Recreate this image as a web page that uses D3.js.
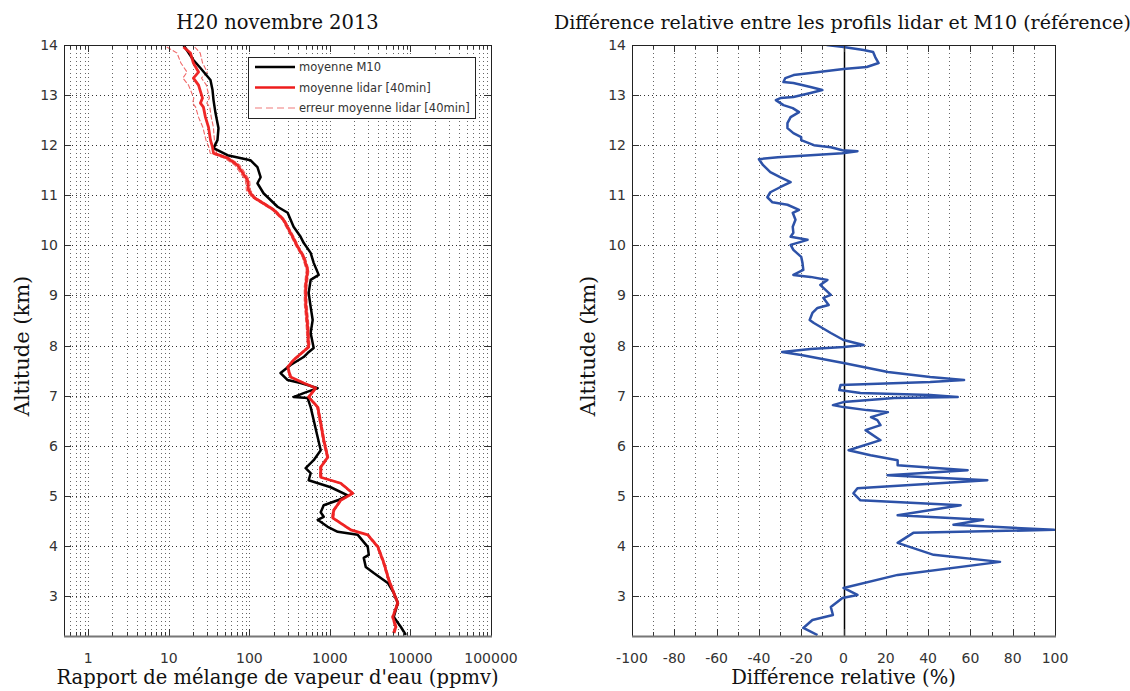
<!DOCTYPE html>
<html><head><meta charset="utf-8">
<script src="https://cdn.jsdelivr.net/npm/d3@7"></script>
<style>body{margin:0;background:#fff}</style>
</head><body><svg id="c" width="1130" height="691"></svg>
<script>
// ---------- data ----------
const m10Alt = [14.00,13.70,13.54,13.30,13.10,12.90,12.64,12.34,12.10,11.94,11.80,11.70,11.56,11.36,11.24,11.04,10.77,10.65,10.37,10.17,10.05,9.85,9.65,9.41,9.31,9.05,8.77,8.51,8.25,7.95,7.85,7.77,7.61,7.45,7.31,7.25,7.15,7.05,6.97,6.95,6.77,6.51,6.17,5.91,5.71,5.55,5.45,5.31,5.17,5.01,4.91,4.81,4.67,4.58,4.52,4.38,4.28,4.22,3.98,3.82,3.76,3.58,3.46,3.26,3.06,2.86,2.58,2.38,2.22];
const m10Val = [15.2,20.2,24.7,32.9,34.9,35.9,38,41.4,40.2,35.9,53.6,103,126,138,126,150,224,299,354,433,472,577,629,726,577,545,577,611,577,629,529,472,325,244,299,433,705,472,354,529,577,629,705,769,629,500,577,545,1023,1664,1250,838,769,838,705,939,1250,2218,2951,3040,2632,2786,3505,5235,6210,6966,6210,7610,8770];

const lidarAlt = [13.96,13.84,13.64,13.46,13.34,13.20,12.94,12.84,12.76,12.56,12.36,12.10,11.96,11.84,11.74,11.60,11.30,11.10,10.96,10.71,10.51,10.17,9.97,9.77,9.51,9.17,8.85,8.37,7.97,7.71,7.57,7.37,7.25,7.15,6.97,6.77,6.45,6.11,5.77,5.57,5.37,5.25,5.05,4.91,4.71,4.56,4.32,4.22,3.98,3.66,3.32,3.06,2.86,2.58,2.38,2.26];
const lidarVal = [15.2,18.6,20.2,23.4,20.2,23.4,26.2,24.7,26.9,28.5,31.1,32.9,34.9,35.9,53.6,71.3,95,97.7,113,200,266,345,398,472,529,500,500,529,545,354,299,325,472,666,545,705,769,838,939,769,769,1363,1921,1363,1115,1083,1815,2951,3935,4668,5386,6210,6966,6040,6577,6210];
const lidarErrPct = [38,32,30,28,26,25,22,20,20,18,15,12,10,9,8,7,6,6,5,5,4,4,4,4,4,4,4,4,4,3,3,3,3,3,3,3,3,3,3,3,3,3,3,3,3,3,3,3,3,3,3,3,3,3,3,3];

const diffAlt = [14.00,13.96,13.90,13.86,13.76,13.64,13.56,13.52,13.44,13.40,13.34,13.26,13.24,13.16,13.10,13.04,12.96,12.94,12.90,12.80,12.74,12.66,12.56,12.44,12.34,12.24,12.16,12.10,12.00,11.96,11.90,11.88,11.84,11.80,11.76,11.72,11.60,11.46,11.36,11.26,11.16,11.06,10.96,10.86,10.81,10.71,10.65,10.51,10.37,10.25,10.17,10.11,10.01,9.91,9.77,9.65,9.51,9.41,9.37,9.31,9.21,9.11,9.01,8.95,8.81,8.75,8.65,8.51,8.45,8.35,8.25,8.11,8.01,7.97,7.93,7.87,7.81,7.65,7.47,7.37,7.31,7.27,7.21,7.11,7.05,7.01,6.97,6.95,6.87,6.81,6.77,6.71,6.67,6.57,6.51,6.41,6.31,6.11,5.91,5.81,5.71,5.61,5.51,5.41,5.31,5.15,5.05,4.91,4.81,4.61,4.52,4.42,4.32,4.26,4.06,3.82,3.68,3.42,3.16,3.02,2.96,2.78,2.62,2.52,2.36,2.22];
const diffVal = [-8,0,9.5,14,15,16.6,11,0,-15.6,-23.6,-27.5,-28.4,-23.7,-15.6,-10,-15.6,-23.7,-29.8,-32,-28.4,-24,-21,-25,-26.5,-26.5,-23.7,-20,-20,-14,-6,-0.5,6.6,-0.5,-15.6,-31,-40,-38,-34.6,-30,-25,-30,-34.6,-36,-33.6,-26.5,-21,-24,-22.7,-24,-23.7,-25,-17,-25,-23.7,-20,-19.4,-19,-23.7,-15.6,-7.6,-11,-8.5,-6,-9.5,-7,-12.3,-14.7,-16,-14,-10,-6,0,9.5,0,-15.6,-29,-20,0,21,41,57,41,-1.4,-2,8,41,54,24,0,-5,0,11,21,13,16,17.5,10.4,17.5,2.4,12.8,25.6,25.6,58.7,20.8,68,6.6,4.7,8,55.4,25.6,66,52,99.5,33,25.6,42.6,74,25.6,0,6.6,-0.5,-6,-5,-14.7,-19,-12.3];

const altTicks = [3,4,5,6,7,8,9,10,11,12,13,14];
const logTickLabels = [1,10,100,1000,10000,100000];
const diffTicks = [-100,-80,-60,-40,-20,0,20,40,60,80,100];
const diffMinor = [-90,-70,-50,-30,-10,10,30,50,70,90];

const titleLeft = "H20 novembre 2013";
const titleRight = "Différence relative entre les profils lidar et M10 (référence)";
const xLabelLeft = "Rapport de mélange de vapeur d'eau (ppmv)";
const xLabelRight = "Différence relative (%)";
const yLabel = "Altitude (km)";
const legendLabels = ["moyenne M10","moyenne lidar [40min]","erreur moyenne lidar [40min]"];

(function(){
// ---------- layout ----------
const svg = d3.select("#c");
const pTop = 45, pBot = 636;
const L = {x0:64, x1:491}, R = {x0:632, x1:1055};
const serif = "'DejaVu Serif', serif", sans = "'DejaVu Sans', sans-serif";
const gridCol = "#666", gridDash = "1,3";

const y = d3.scaleLinear().domain([2.2,14]).range([pBot, pTop]);
const xL = d3.scaleLog().domain([0.5,100000]).range([L.x0, L.x1]);
const xR = d3.scaleLinear().domain([-100,100]).range([R.x0, R.x1]);

const logMinor = [];
for (let e=-1;e<=4;e++) for (let m=1;m<=9;m++){ const v=m*Math.pow(10,e); if(v>=0.5 && v<=100000) logMinor.push(+v.toPrecision(3)); }
logMinor.push(100000);

function grid(x, X, vGrid){
  const g = svg.append("g");
  g.selectAll("line.v").data(vGrid).join("line").attr("class","v")
    .attr("x1",d=>Math.round(x(d))+0.5).attr("x2",d=>Math.round(x(d))+0.5).attr("y1",pTop).attr("y2",pBot)
    .attr("stroke",gridCol).attr("stroke-width",1).attr("stroke-dasharray",gridDash);
  g.selectAll("line.h").data(altTicks.filter(d=>d<14)).join("line").attr("class","h")
    .attr("x1",X.x0).attr("x2",X.x1).attr("y1",d=>Math.round(y(d))+0.5).attr("y2",d=>Math.round(y(d))+0.5)
    .attr("stroke","#333").attr("stroke-width",1).attr("stroke-dasharray",gridDash);
}
const lineOf = (xs, alts, vals) => d3.line().x((d,i)=>xs(vals[i])).y((d,i)=>y(alts[i]))(alts);

function frameAndTicks(x, X, majorVals, minorVals, labelVals){
  const g = svg.append("g");
  majorVals.forEach(v=>{
    const px = Math.round(x(v))+0.5;
    g.append("line").attr("x1",px).attr("x2",px).attr("y1",pBot).attr("y2",pBot-7).attr("stroke","#333");
    g.append("line").attr("x1",px).attr("x2",px).attr("y1",pTop).attr("y2",pTop+7).attr("stroke","#333");
  });
  minorVals.forEach(v=>{
    const px = Math.round(x(v))+0.5;
    g.append("line").attr("x1",px).attr("x2",px).attr("y1",pBot).attr("y2",pBot-4).attr("stroke","#333");
    g.append("line").attr("x1",px).attr("x2",px).attr("y1",pTop).attr("y2",pTop+4).attr("stroke","#333");
  });
  altTicks.forEach(a=>{
    const py = Math.round(y(a))+0.5;
    g.append("line").attr("x1",X.x0).attr("x2",X.x0+7).attr("y1",py).attr("y2",py).attr("stroke","#333");
    g.append("line").attr("x1",X.x1).attr("x2",X.x1-7).attr("y1",py).attr("y2",py).attr("stroke","#333");
  });
  g.append("rect").attr("x",X.x0+0.5).attr("y",pTop+0.5).attr("width",X.x1-X.x0).attr("height",pBot-pTop)
    .attr("fill","none").attr("stroke","#222").attr("stroke-width",1);
  g.append("line").attr("x1",X.x0).attr("x2",X.x1+1).attr("y1",pBot+0.5).attr("y2",pBot+0.5).attr("stroke","#777").attr("stroke-width",2);
  g.selectAll("text.xl").data(labelVals).join("text").attr("class","xl")
    .attr("x",d=>x(d)).attr("y",pBot+27).attr("text-anchor","middle")
    .attr("font-family",sans).attr("font-size",14).attr("fill","#333").text(d=>String(d));
  g.selectAll("text.yl").data(altTicks).join("text").attr("class","yl")
    .attr("x",X.x0-6).attr("y",d=>y(d)+5).attr("text-anchor","end")
    .attr("font-family",sans).attr("font-size",14).attr("fill","#333").text(d=>d);
}

// ---------- left panel ----------
grid(xL, L, logMinor.filter(v=>v>0.5 && v<100000));
svg.append("clipPath").attr("id","clipL").append("rect")
  .attr("x",L.x0).attr("y",pTop).attr("width",L.x1-L.x0).attr("height",pBot-pTop);
const gLines = svg.append("g").attr("clip-path","url(#clipL)");
const errLo = lidarVal.map((v,i)=>v*(1-lidarErrPct[i]/100));
const errHi = lidarVal.map((v,i)=>v*(1+lidarErrPct[i]/100));
[errLo, errHi].forEach(arr=>{
  gLines.append("path").attr("d", lineOf(xL, lidarAlt, arr))
    .attr("fill","none").attr("stroke","#f06a6a").attr("stroke-width",1.1).attr("stroke-dasharray","5,2");
});
gLines.append("path").attr("d", lineOf(xL, m10Alt, m10Val))
  .attr("fill","none").attr("stroke","#000").attr("stroke-width",2.5).attr("stroke-linejoin","round");
gLines.append("path").attr("d", lineOf(xL, lidarAlt, lidarVal))
  .attr("fill","none").attr("stroke","#ee1c1c").attr("stroke-width",2.8).attr("stroke-linejoin","round").attr("stroke-opacity",0.95);
frameAndTicks(xL, L, logTickLabels.filter(v=>v<100000), logMinor.filter(v=>!logTickLabels.includes(v)), logTickLabels);

// legend
const lg = svg.append("g");
lg.append("rect").attr("x",248.5).attr("y",57.5).attr("width",227).attr("height",61).attr("fill","#fff").attr("stroke","#222");
const legStyles = [{c:"#000",w:2.5,d:null},{c:"#ee1c1c",w:2.5,d:null},{c:"#f07a7a",w:1.2,d:"7,4"}];
legendLabels.forEach((t,i)=>{
  const yy = 67+i*20.5;
  lg.append("line").attr("x1",255).attr("x2",295).attr("y1",yy).attr("y2",yy)
    .attr("stroke",legStyles[i].c).attr("stroke-width",legStyles[i].w).attr("stroke-dasharray",legStyles[i].d);
  lg.append("text").attr("x",299).attr("y",yy+4).attr("font-family",sans).attr("font-size",11.5).attr("fill","#333").text(t);
});

// ---------- right panel ----------
grid(xR, R, d3.range(-90,100,10));
svg.append("line").attr("x1",Math.round(xR(0))+0.5).attr("x2",Math.round(xR(0))+0.5).attr("y1",pTop).attr("y2",pBot).attr("stroke","#000").attr("stroke-width",1.5);
svg.append("clipPath").attr("id","clipR").append("rect")
  .attr("x",R.x0).attr("y",pTop).attr("width",R.x1-R.x0+1).attr("height",pBot-pTop);
svg.append("g").attr("clip-path","url(#clipR)").append("path")
  .attr("d", lineOf(xR, diffAlt, diffVal))
  .attr("fill","none").attr("stroke","#2d52a8").attr("stroke-width",2.5).attr("stroke-linejoin","round");
frameAndTicks(xR, R, diffTicks.filter(v=>v>-100&&v<100), diffMinor, diffTicks);

// ---------- titles ----------
svg.append("text").attr("x",(L.x0+L.x1)/2).attr("y",29).attr("text-anchor","middle")
  .attr("font-family",serif).attr("font-size",19.5).attr("fill","#111").text(titleLeft);
svg.append("text").attr("x",(R.x0+R.x1)/2 - 1).attr("y",29).attr("text-anchor","middle")
  .attr("font-family",serif).attr("font-size",19).attr("fill","#111").text(titleRight);
svg.append("text").attr("x",(L.x0+L.x1)/2).attr("y",684).attr("text-anchor","middle")
  .attr("font-family",serif).attr("font-size",19.5).attr("fill","#111").text(xLabelLeft);
svg.append("text").attr("x",(R.x0+R.x1)/2).attr("y",684).attr("text-anchor","middle")
  .attr("font-family",serif).attr("font-size",19.5).attr("fill","#111").text(xLabelRight);
[[29,346],[595,346]].forEach(([cx,cy])=>{
  svg.append("text").attr("transform",`translate(${cx},${cy}) rotate(-90)`).attr("text-anchor","middle")
    .attr("font-family",serif).attr("font-size",21).attr("fill","#111").text(yLabel);
});
})();
</script></body></html>
